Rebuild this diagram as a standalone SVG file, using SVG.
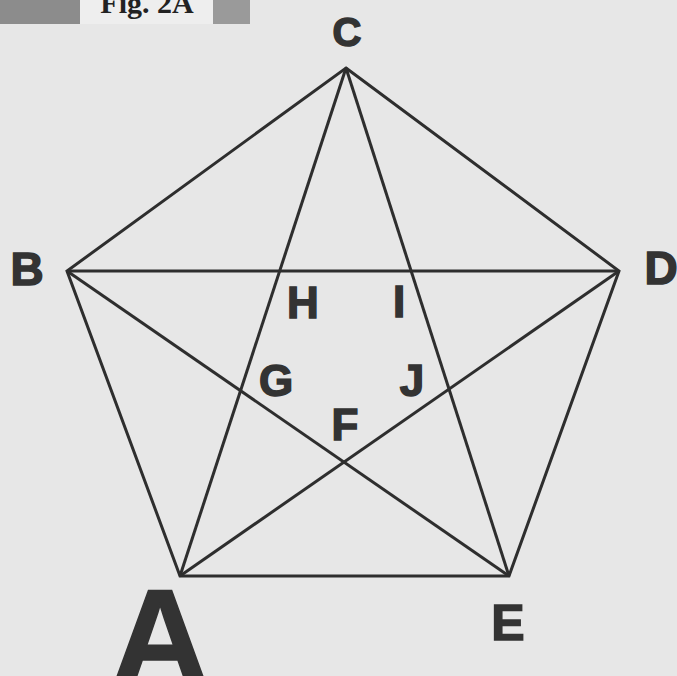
<svg xmlns="http://www.w3.org/2000/svg" width="677" height="676" viewBox="0 0 677 676">
<style>
.ln{stroke:#2e2e2e;stroke-width:3;fill:none;stroke-linejoin:miter}
.lb{font-family:"Liberation Sans","DejaVu Sans",sans-serif;font-weight:bold;fill:#333;stroke:#333;stroke-width:1.5;text-anchor:middle}
</style>
<rect width="677" height="676" fill="#e7e7e7"/>
<g id="title">
<rect x="0" y="0" width="80" height="24" fill="#8c8c8c"/>
<rect x="80" y="0" width="133" height="24" fill="#eeeeee"/>
<rect x="213" y="0" width="37" height="24" fill="#9a9a9a"/>
<text x="147" y="13" font-family="Liberation Serif,serif" font-weight="bold" font-size="30" fill="#222" text-anchor="middle">Fig. 2A</text>
</g>
<g id="connectors">
<polygon class="ln" points="346,68 619,271 509,576 180,576 67,271"/>
<line class="ln" x1="346" y1="68" x2="180" y2="576"/>
<line class="ln" x1="346" y1="68" x2="509" y2="576"/>
<line class="ln" x1="67" y1="271" x2="619" y2="271"/>
<line class="ln" x1="67" y1="271" x2="509" y2="576"/>
<line class="ln" x1="619" y1="271" x2="180" y2="576"/>
</g>
<g id="C"><text class="lb" x="347" y="46" font-size="40">C</text></g>
<g id="B"><text class="lb" x="27" y="285" font-size="46">B</text></g>
<g id="D"><text class="lb" x="661" y="284" font-size="46">D</text></g>
<g id="H"><text class="lb" x="303" y="318" font-size="44">H</text></g>
<g id="I"><text class="lb" x="399" y="317" font-size="44">I</text></g>
<g id="G"><text class="lb" x="276" y="396" font-size="44">G</text></g>
<g id="J"><text class="lb" x="412" y="396" font-size="44">J</text></g>
<g id="F"><text class="lb" x="345" y="440" font-size="44">F</text></g>
<g id="E"><text class="lb" x="508" y="640" font-size="50">E</text></g>
<g id="A"><text class="lb" x="160" y="684" font-size="136" stroke-width="3">A</text></g>
</svg>
